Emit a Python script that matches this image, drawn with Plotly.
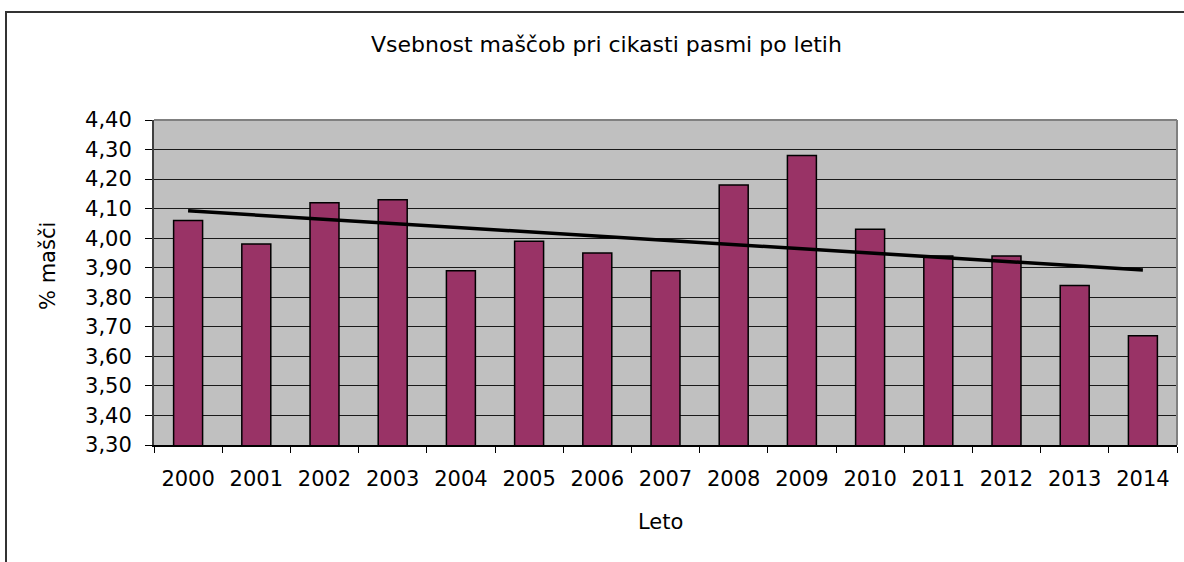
import numpy as np
import plotly.graph_objects as go

years = ["2000", "2001", "2002", "2003", "2004", "2005", "2006", "2007",
         "2008", "2009", "2010", "2011", "2012", "2013", "2014"]
fat_pct = [4.06, 3.98, 4.12, 4.13, 3.89, 3.99, 3.95, 3.89,
           4.18, 4.28, 4.03, 3.94, 3.94, 3.84, 3.67]
y_ticks = [3.30, 3.40, 3.50, 3.60, 3.70, 3.80, 3.90, 4.00, 4.10, 4.20, 4.30, 4.40]

title_text = "Vsebnost maščob pri cikasti pasmi po letih"
x_title = "Leto"
y_title = "% mašči"

# linear trend (as in the original spreadsheet trendline)
xi = np.arange(len(fat_pct))
slope, intercept = np.polyfit(xi, fat_pct, 1)
trend = list(intercept + slope * xi)

W, H = 1184, 562
L, R, T, B = 154, 7, 120, 117
pw, ph = W - L - R, H - T - B

def px_x(px):
    return (px - L) / pw

def px_y(py):
    return (H - B - py) / ph

FONT = "DejaVu Sans"
fig = go.Figure()
fig.add_trace(go.Bar(x=years, y=fat_pct, marker=dict(color="#993366", line=dict(color="#000000", width=1.5)),
                     showlegend=False))
fig.add_trace(go.Scatter(x=years, y=trend, mode="lines", line=dict(color="#000000", width=3.5),
                         showlegend=False))

fig.update_layout(
    width=W, height=H,
    margin=dict(l=L, r=R, t=T, b=B),
    paper_bgcolor="#FFFFFF", plot_bgcolor="#C0C0C0",
    separators=", ",
    bargap=0.575,
    font=dict(family=FONT, size=21, color="#000000"),
    showlegend=False,
)
fig.update_xaxes(type="category", tickson="boundaries", ticks="outside", ticklen=6, tickcolor="#000000",
                 showline=True, linecolor="#000000", linewidth=1.5, showgrid=False,
                 ticklabelstandoff=14, tickfont=dict(family=FONT, size=21))
fig.update_yaxes(range=[3.30, 4.40], tickvals=y_ticks, tickformat=".2f", ticks="outside", ticklen=7,
                 tickcolor="#000000", showline=True, linecolor="#404040", linewidth=2,
                 showgrid=True, gridcolor="#1a1a1a", gridwidth=1, zeroline=False,
                 ticklabelstandoff=9, tickfont=dict(family=FONT, size=21))

shapes = [
    # plot area top/right border (grey)
    dict(type="line", xref="paper", yref="paper", x0=0, x1=1, y0=1, y1=1, line=dict(color="#808080", width=2)),
    dict(type="line", xref="paper", yref="paper", x0=1, x1=1, y0=0, y1=1, line=dict(color="#808080", width=2)),
    # outer chart frame
    dict(type="rect", xref="paper", yref="paper", x0=px_x(6), x1=px_x(1195), y0=px_y(575), y1=px_y(12),
         line=dict(color="#333333", width=2), fillcolor="rgba(0,0,0,0)", layer="below"),
]
fig.update_layout(shapes=shapes)

fig.add_annotation(text=title_text, xref="paper", yref="paper", x=px_x(606), y=px_y(45),
                   xanchor="center", yanchor="middle", showarrow=False, font=dict(family=FONT, size=22))
fig.add_annotation(text=x_title, xref="paper", yref="paper", x=px_x(660), y=px_y(522),
                   xanchor="center", yanchor="middle", showarrow=False, font=dict(family=FONT, size=21))
fig.add_annotation(text=y_title, xref="paper", yref="paper", x=px_x(48), y=px_y(266),
                   xanchor="center", yanchor="middle", textangle=-90, showarrow=False,
                   font=dict(family=FONT, size=21))

fig.write_html("out.html", config={"displayModeBar": False},
               post_script="document.body.style.margin='0';document.body.style.overflow='hidden';")
